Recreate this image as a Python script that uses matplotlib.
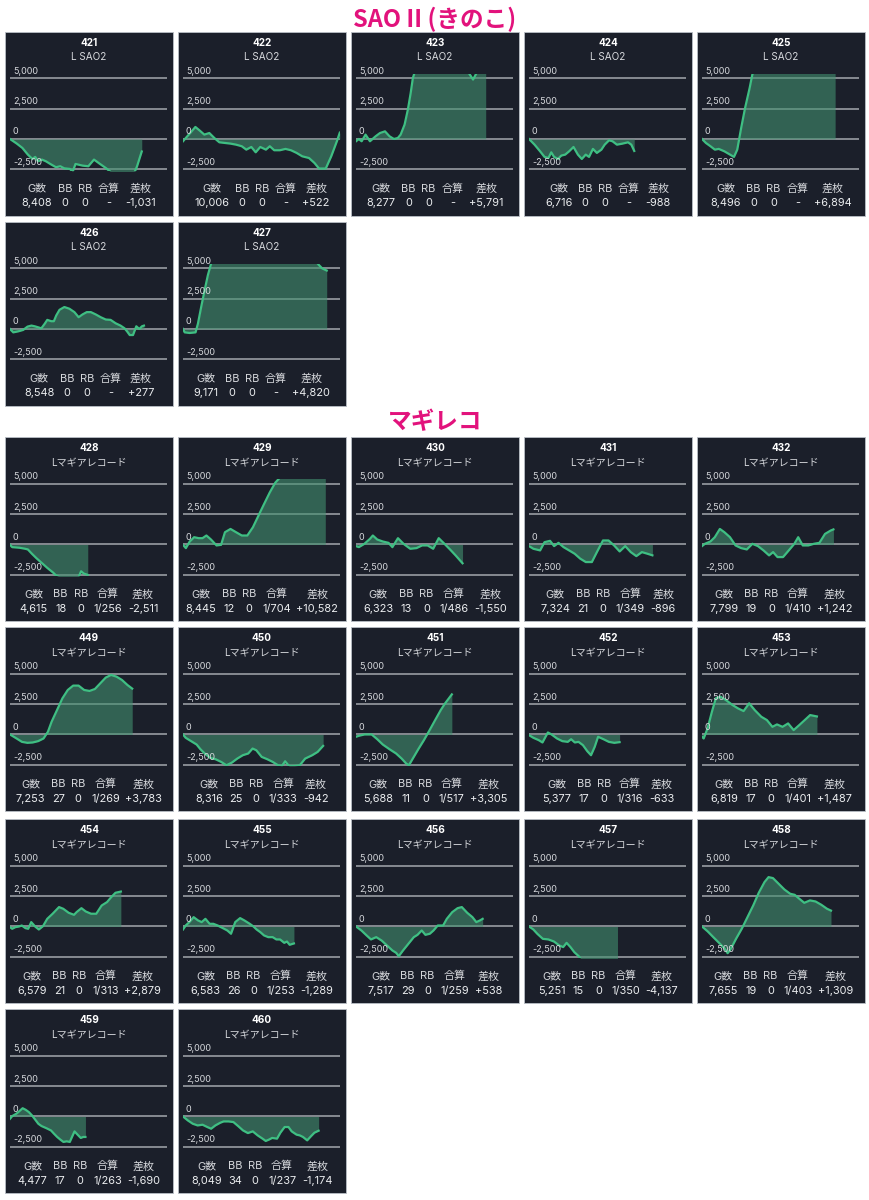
import matplotlib
matplotlib.use('Agg')
import matplotlib.pyplot as plt
from matplotlib.patches import Rectangle

plt.rcParams['font.family'] = ['Inter', 'Noto Sans CJK JP', 'DejaVu Sans']

# ---------------- data ----------------
sao_ids = [421, 422, 423, 424, 425, 426, 427]
sao_games = [8408, 10006, 8277, 6716, 8496, 8548, 9171]
sao_bb = [0, 0, 0, 0, 0, 0, 0]
sao_rb = [0, 0, 0, 0, 0, 0, 0]
sao_gousan = ['-', '-', '-', '-', '-', '-', '-']
sao_samai = [-1031, 522, 5791, -988, 6894, 277, 4820]

mag_ids = [428, 429, 430, 431, 432, 449, 450, 451, 452, 453, 454, 455, 456, 457, 458, 459, 460]
mag_games = [4615, 8445, 6323, 7324, 7799, 7253, 8316, 5688, 5377, 6819, 6579, 6583, 7517, 5251, 7655, 4477, 8049]
mag_bb = [18, 12, 13, 21, 19, 27, 25, 11, 17, 17, 21, 26, 29, 15, 19, 17, 34]
mag_rb = [0, 0, 0, 0, 0, 0, 0, 0, 0, 0, 0, 0, 0, 0, 0, 0, 0]
mag_gousan = ['1/256', '1/704', '1/486', '1/349', '1/410', '1/269', '1/333', '1/517', '1/316',
              '1/401', '1/313', '1/253', '1/259', '1/350', '1/403', '1/263', '1/237']
mag_samai = [-2511, 10582, -1550, -896, 1242, 3783, -942, 3305, -633, 1487, 2879, -1289, 538, -4137, 1309, -1690, -1174]

headers = ['G数', 'BB', 'RB', '合算', '差枚']
grid_values = [-2500, 0, 2500, 5000]

# slump graphs: x = games played, y = coin difference
x421 = [0,430,790,1140,1430,1610,1790,2040,2290,2570,2930,3210,3460,3820,4000,4180,4640,5000,5360,5710,6140,6500,7930,8110,8408]
y421 = [0,-380,-740,-1290,-1650,-1480,-1840,-1700,-1840,-2060,-2330,-2250,-2420,-2470,-2700,-2060,-2200,-2250,-1700,-2030,-2420,-2800,-2800,-2250,-1031]
x422 = [0,180,460,790,1070,1360,1680,2000,2320,2680,3040,3390,3750,4040,4360,4640,4930,5290,5540,5820,6180,6540,6890,7250,7610,8040,8390,8680,9110,9460,9820,10006]
y422 = [-190,80,490,990,690,360,490,80,-275,-330,-385,-470,-600,-880,-660,-1100,-660,-880,-600,-930,-930,-820,-930,-1150,-1430,-1570,-1980,-2440,-2440,-1430,-190,522]
x423 = [0,180,360,610,890,1250,1530,1850,2140,2420,2670,2850,3100,3310,3490,3630,3770,7120,7470,7760,8277]
y423 = [-190,0,-190,360,-190,220,490,630,220,0,80,360,1180,2420,3790,5030,5600,5600,4900,5600,5791]
x424 = [0,355,710,990,1240,1420,1600,1850,2060,2310,2560,2840,3120,3370,3620,3830,4080,4330,4620,4830,5110,5330,5610,5960,6320,6530,6716]
y424 = [0,-470,-1020,-1480,-1570,-1100,-1480,-1650,-1370,-1290,-1020,-660,-1290,-1650,-1290,-1480,-820,-1150,-880,-470,-110,-190,-470,-385,-275,-470,-988]
x425 = [0,250,540,820,1070,1430,1790,2040,2250,2500,2750,3040,3210,3320,8496]
y425 = [0,-330,-600,-880,-820,-1020,-1290,-1480,-880,910,2560,4200,5300,5600,6894]
x426 = [0,210,530,840,1120,1370,1580,1790,2000,2210,2380,2630,2800,2950,3160,3470,3790,4110,4380,4630,4900,5160,5470,5790,6110,6420,6740,7050,7310,7470,7640,7850,8060,8250,8420,8548]
y426 = [0,-280,-195,-80,195,280,220,140,55,420,750,640,640,1110,1580,1810,1670,1390,970,1200,1390,1390,1200,970,780,750,470,280,55,-195,-500,-500,220,0,220,277]
x427 = [0,110,420,800,950,1160,1380,1590,1800,1860,8460,8670,8880,9171]
y427 = [0,-280,-330,-280,420,1810,3200,4450,5420,5600,5600,5280,5000,4820]

x428 = [0,130,560,900,1060,1300,1560,1890,2220,2560,2720,3050,4050,4220,4380,4615]
y428 = [-30,-220,-270,-355,-410,-765,-1120,-1530,-1940,-2320,-2540,-2750,-2750,-2210,-2400,-2511]
x429 = [0,170,400,660,930,1160,1390,1660,1990,2260,2490,2820,3150,3490,3820,4150,4480,4810,5150,5480,5810,8445]
y429 = [-30,-300,245,600,520,520,740,410,-80,-30,1010,1280,1010,740,740,1420,2380,3330,4290,5100,5600,10582]
x430 = [0,170,500,830,1000,1260,1590,1930,2160,2490,2820,3220,3590,3920,4250,4580,4910,5250,5580,5910,6323]
y430 = [-135,-220,55,465,740,410,245,135,-220,520,55,-355,-300,-80,-80,-355,520,55,-410,-900,-1550]
x431 = [0,260,660,920,1250,1490,1750,2050,2380,2710,3040,3370,3730,4030,4390,4720,5050,5380,5710,6040,6370,6700,7030,7324]
y431 = [-135,-355,-490,190,300,-135,135,-220,-490,-765,-1170,-1450,-1450,-630,330,330,-80,-575,-135,-630,-960,-630,-765,-896]
x432 = [0,170,500,760,1060,1330,1660,1990,2320,2660,2990,3320,3650,3980,4220,4480,4810,5150,5480,5710,5980,6310,6640,6970,7300,7640,7799]
y432 = [-135,55,245,600,1280,1010,600,-80,-300,-410,55,-135,-490,-900,-630,-1040,-1040,-490,55,600,-80,-80,55,135,870,1150,1242]
x449 = [0,130,390,710,1030,1350,1670,1990,2250,2470,2790,3110,3430,3750,4070,4400,4720,5040,5360,5680,6000,6320,6640,6970,7253]
y449 = [0,-110,-330,-610,-690,-660,-550,-330,220,1050,2010,2980,3670,4030,4030,3670,3590,3750,4220,4690,4910,4770,4500,4080,3783]
x450 = [0,160,480,810,1030,1290,1610,1930,2260,2580,2900,3220,3550,3870,4130,4350,4670,5000,5320,5640,5870,6060,6290,6610,6930,7250,7670,7990,8316]
y450 = [0,-275,-550,-830,-1210,-1570,-1930,-2040,-2260,-2540,-2320,-1990,-1710,-1570,-1160,-1300,-1850,-2040,-2260,-2540,-2600,-2210,-2600,-2600,-2540,-1990,-1710,-1440,-942]
x451 = [0,170,500,930,1260,1590,1980,2380,2710,2980,3140,3370,3700,4030,4370,4700,5030,5290,5688]
y451 = [-190,-110,0,0,-390,-830,-1210,-1570,-1990,-2400,-2540,-1990,-1210,-470,360,1190,2010,2570,3305]
x452 = [0,260,580,800,1120,1340,1660,1980,2300,2500,2720,2940,3200,3460,3680,3900,4100,4420,4740,5060,5377]
y452 = [-55,-275,-470,-660,165,0,-330,-550,-610,-390,-660,-610,-880,-1380,-1710,-1020,-190,-390,-610,-690,-633]
x453 = [0,100,330,590,820,1090,1420,1810,2140,2470,2800,3130,3520,3850,4180,4450,4780,5110,5440,5770,6100,6420,6819]
y453 = [-190,-330,500,1880,2980,3120,2840,2430,2150,1930,2570,2010,1460,1190,630,830,630,910,360,770,1190,1600,1487]
x454 = [0,130,320,540,700,920,1080,1260,1490,1710,1960,2210,2530,2910,3160,3480,3800,3950,4240,4490,4810,5120,5440,5760,6010,6260,6579]
y454 = [-55,-190,-55,0,80,-140,-190,360,0,-250,30,630,1050,1600,1460,1130,960,1180,1510,1240,1050,1050,1730,2010,2420,2780,2879]
x455 = [0,160,380,630,890,1110,1330,1580,1800,2060,2370,2630,2850,3100,3390,3640,3960,4180,4370,4590,4810,5060,5320,5540,5760,6010,6170,6330,6583]
y455 = [-250,80,360,770,500,360,630,220,220,80,-140,-330,-600,360,690,500,220,0,-250,-470,-740,-880,-880,-1070,-1070,-1350,-1240,-1510,-1400]
x456 = [0,320,630,890,1200,1520,1840,2160,2380,2540,2790,3110,3430,3650,3900,4120,4380,4600,4850,5170,5390,5710,6030,6280,6600,6910,7140,7360,7517]
y456 = [0,-330,-740,-1070,-880,-1160,-1570,-1980,-2170,-2450,-1980,-1430,-880,-690,-330,-690,-600,-330,80,80,630,1180,1510,1600,1130,770,360,500,630]
x457 = [0,260,490,820,1150,1480,1800,2030,2230,2460,2690,2950,3120,3610,4270,4930,5251]
y457 = [0,-250,-600,-1020,-1070,-1240,-1570,-1700,-1350,-1700,-2120,-2450,-2750,-3000,-3600,-3900,-4137]
x458 = [0,340,670,1010,1350,1520,1690,2020,2360,2700,3040,3370,3710,3950,4210,4550,4890,5230,5500,5730,6070,6410,6740,7080,7420,7655]
y458 = [0,-410,-880,-1350,-1840,-2200,-1900,-1020,-190,770,1730,2780,3660,4070,3990,3520,3050,2700,2610,2340,1950,2150,2060,1790,1460,1309]
x459 = [0,130,370,560,750,930,1120,1310,1490,1680,1870,2150,2430,2610,2800,2990,3170,3360,3550,3680,3830,4010,4200,4350,4477]
y459 = [-190,30,220,440,680,550,360,80,-250,-600,-790,-960,-1150,-1420,-1690,-1910,-2100,-2050,-2100,-1690,-1230,-1500,-1770,-1690,-1690]
x460 = [0,290,580,870,1160,1440,1670,1920,2210,2410,2700,2990,3270,3560,3850,4140,4430,4720,4910,5100,5290,5580,5780,6030,6260,6450,6740,6930,7120,7370,7610,7800,8049]
y460 = [0,-330,-600,-740,-680,-870,-1010,-740,-520,-410,-410,-460,-790,-1150,-1370,-1230,-1560,-1830,-2020,-1910,-1770,-1830,-1340,-870,-870,-1230,-1500,-1560,-1690,-1970,-1610,-1340,-1174]

series = {
    421: (x421, y421), 422: (x422, y422), 423: (x423, y423), 424: (x424, y424),
    425: (x425, y425), 426: (x426, y426), 427: (x427, y427),
    428: (x428, y428), 429: (x429, y429), 430: (x430, y430), 431: (x431, y431),
    432: (x432, y432), 449: (x449, y449), 450: (x450, y450), 451: (x451, y451),
    452: (x452, y452), 453: (x453, y453), 454: (x454, y454), 455: (x455, y455),
    456: (x456, y456), 457: (x457, y457), 458: (x458, y458), 459: (x459, y459),
    460: (x460, y460),
}

# ---------------- style / layout ----------------
W, H = 870, 1200
BG = '#1b1f2a'
EDGE = '#b9bec6'
GRID = '#a3a7ad'
LINE = '#3fbf83'
FILL = '#42906f'
TXT = '#d6d8dc'
MAGENTA = '#e2127c'

COL_X = [5, 178, 351, 524, 697]
PW, PH = 168, 184
SAO_ROWS = [31.5, 221.5]
MAG_ROWS = [437, 627, 819, 1009]
PX_PER_2500 = 30.3

fig = plt.figure(figsize=(W / 100, H / 100), dpi=100)
fig.patch.set_facecolor('white')
renderer = fig.canvas.get_renderer()


def fx(x):
    return x / W


def fy(y):
    return 1 - y / H


def draw_panel(x0, top, num, sub, xs, ys, xmax, stats):
    fig.patches.append(Rectangle((fx(x0), fy(top + PH)), PW / W, PH / H,
                                 transform=fig.transFigure, facecolor=BG,
                                 edgecolor=EDGE, lw=0.6, zorder=-5))
    ax = fig.add_axes([fx(x0 + 5), fy(top + 139), 156.7 / W, 97 / H])
    ax.set_xlim(0, xmax)
    ax.set_ylim(-2600, 5400)
    ax.axis('off')
    for v in grid_values:
        ax.axhline(v, color=GRID, lw=1.1, zorder=1)
        ly = top + 107.5 - v * PX_PER_2500 / 2500 - 7.0
        fig.text(fx(x0 + 8), fy(ly), f'{v:,}', ha='left', va='center',
                 fontsize=6.5, color=TXT)
    ax.fill_between(xs, 0, ys, color=FILL, alpha=0.6, lw=0, zorder=2)
    ax.plot(xs, ys, color=LINE, lw=1.6, zorder=3, solid_joinstyle='round')

    fig.text(fx(x0 + PW / 2), fy(top + 11), str(num), ha='center', va='center',
             fontsize=7.2, fontweight='bold', color='white')
    fig.text(fx(x0 + PW / 2), fy(top + 26), sub, ha='center', va='center',
             fontsize=7.2, color=TXT)

    # stats table (auto column widths, centred)
    ht = [fig.text(0, 0, h, ha='center', va='center', fontsize=7.9, color=TXT) for h in headers]
    vt = [fig.text(0, 0, s, ha='center', va='center', fontsize=7.9, color='#eceef0') for s in stats]
    pad = 2.8
    widths = [max(a.get_window_extent(renderer).width, b.get_window_extent(renderer).width) + 2 * pad
              for a, b in zip(ht, vt)]
    cx = x0 + (PW - sum(widths)) / 2
    for a, b, w in zip(ht, vt, widths):
        c = cx + w / 2
        a.set_position((fx(c), fy(top + 157)))
        b.set_position((fx(c), fy(top + 172)))
        cx += w


def fmt_stats(g, bb, rb, gs, sm):
    return [f'{g:,}', str(bb), str(rb), gs, f'{sm:+,}']


# section titles
fig.text(0.5, fy(19.5), 'SAO II (きのこ)', ha='center', va='center', fontsize=17,
         fontweight='bold', color=MAGENTA, family=['Noto Sans CJK JP', 'DejaVu Sans'])
fig.text(0.5, fy(422), 'マギレコ', ha='center', va='center', fontsize=17,
         fontweight='bold', color=MAGENTA, family=['Noto Sans CJK JP', 'DejaVu Sans'])

for i, mid in enumerate(sao_ids):
    r, c = divmod(i, 5)
    xs, ys = series[mid]
    draw_panel(COL_X[c], SAO_ROWS[r], mid, 'L SAO2', xs, ys, 10000,
               fmt_stats(sao_games[i], sao_bb[i], sao_rb[i], sao_gousan[i], sao_samai[i]))

for i, mid in enumerate(mag_ids):
    r, c = divmod(i, 5)
    xs, ys = series[mid]
    draw_panel(COL_X[c], MAG_ROWS[r], mid, 'Lマギアレコード', xs, ys, 9300,
               fmt_stats(mag_games[i], mag_bb[i], mag_rb[i], mag_gousan[i], mag_samai[i]))

fig.savefig('out.png', dpi=100, facecolor='white')
